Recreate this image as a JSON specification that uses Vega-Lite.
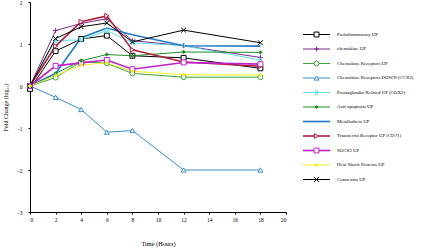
{
  "$schema": "https://vega.github.io/schema/vega-lite/v6.json",
  "padding": {"left": 2, "top": 0, "right": 0, "bottom": 0},
  "background": "white",
  "spacing": 15,
  "config": {
    "view": {"stroke": null},
    "font": "Liberation Serif",
    "axis": {"domainColor": "black", "tickColor": "black", "labelColor": "black", "titleColor": "black", "grid": false, "labelFont": "Liberation Serif", "titleFont": "Liberation Serif", "labelFontSize": 5.5, "titleFontSize": 6.3, "titleFontWeight": "normal", "tickSize": 2, "domainWidth": 1}
  },
  "data": {"values": [
    {"series": "Proinflammatory UP", "t": 0, "v": -0.07}, {"series": "Proinflammatory UP", "t": 2, "v": 0.83}, {"series": "Proinflammatory UP", "t": 4, "v": 1.12}, {"series": "Proinflammatory UP", "t": 6, "v": 1.2}, {"series": "Proinflammatory UP", "t": 8, "v": 0.72}, {"series": "Proinflammatory UP", "t": 12, "v": 0.67}, {"series": "Proinflammatory UP", "t": 18, "v": 0.42},
    {"series": "chemokine UP", "t": 0, "v": 0}, {"series": "chemokine UP", "t": 2, "v": 1.32}, {"series": "chemokine UP", "t": 4, "v": 1.49}, {"series": "chemokine UP", "t": 6, "v": 1.6}, {"series": "chemokine UP", "t": 8, "v": 1.08}, {"series": "chemokine UP", "t": 12, "v": 0.96}, {"series": "chemokine UP", "t": 18, "v": 0.68},
    {"series": "Chemokine Receptors UP", "t": 0, "v": 0}, {"series": "Chemokine Receptors UP", "t": 2, "v": 0.2}, {"series": "Chemokine Receptors UP", "t": 4, "v": 0.58}, {"series": "Chemokine Receptors UP", "t": 6, "v": 0.54}, {"series": "Chemokine Receptors UP", "t": 8, "v": 0.3}, {"series": "Chemokine Receptors UP", "t": 12, "v": 0.21}, {"series": "Chemokine Receptors UP", "t": 18, "v": 0.21},
    {"series": "Chemokine Receptors DOWN (CCR2)", "t": 0, "v": 0}, {"series": "Chemokine Receptors DOWN (CCR2)", "t": 2, "v": -0.27}, {"series": "Chemokine Receptors DOWN (CCR2)", "t": 4, "v": -0.56}, {"series": "Chemokine Receptors DOWN (CCR2)", "t": 6, "v": -1.1}, {"series": "Chemokine Receptors DOWN (CCR2)", "t": 8, "v": -1.06}, {"series": "Chemokine Receptors DOWN (CCR2)", "t": 12, "v": -2.0}, {"series": "Chemokine Receptors DOWN (CCR2)", "t": 18, "v": -2.0},
    {"series": "Prostaglandin-Related UP (COX2)", "t": 0, "v": 0}, {"series": "Prostaglandin-Related UP (COX2)", "t": 2, "v": 1.08}, {"series": "Prostaglandin-Related UP (COX2)", "t": 4, "v": 1.1}, {"series": "Prostaglandin-Related UP (COX2)", "t": 6, "v": 1.32}, {"series": "Prostaglandin-Related UP (COX2)", "t": 8, "v": 1.03}, {"series": "Prostaglandin-Related UP (COX2)", "t": 12, "v": 0.96}, {"series": "Prostaglandin-Related UP (COX2)", "t": 18, "v": 0.62},
    {"series": "Anti-apoptosis UP", "t": 0, "v": 0}, {"series": "Anti-apoptosis UP", "t": 2, "v": 0.3}, {"series": "Anti-apoptosis UP", "t": 4, "v": 0.6}, {"series": "Anti-apoptosis UP", "t": 6, "v": 0.75}, {"series": "Anti-apoptosis UP", "t": 8, "v": 0.72}, {"series": "Anti-apoptosis UP", "t": 12, "v": 0.81}, {"series": "Anti-apoptosis UP", "t": 18, "v": 0.8},
    {"series": "Metallothein UP", "t": 0, "v": 0}, {"series": "Metallothein UP", "t": 2, "v": 0.3}, {"series": "Metallothein UP", "t": 4, "v": 1.15}, {"series": "Metallothein UP", "t": 6, "v": 1.38}, {"series": "Metallothein UP", "t": 8, "v": 1.22}, {"series": "Metallothein UP", "t": 12, "v": 0.96}, {"series": "Metallothein UP", "t": 18, "v": 0.95},
    {"series": "Transferrin Receptor UP (CD71)", "t": 0, "v": 0}, {"series": "Transferrin Receptor UP (CD71)", "t": 2, "v": 0.95}, {"series": "Transferrin Receptor UP (CD71)", "t": 4, "v": 1.53}, {"series": "Transferrin Receptor UP (CD71)", "t": 6, "v": 1.67}, {"series": "Transferrin Receptor UP (CD71)", "t": 8, "v": 0.86}, {"series": "Transferrin Receptor UP (CD71)", "t": 12, "v": 0.57}, {"series": "Transferrin Receptor UP (CD71)", "t": 18, "v": 0.47},
    {"series": "SOCS3 UP", "t": 0, "v": 0}, {"series": "SOCS3 UP", "t": 2, "v": 0.48}, {"series": "SOCS3 UP", "t": 4, "v": 0.55}, {"series": "SOCS3 UP", "t": 6, "v": 0.62}, {"series": "SOCS3 UP", "t": 8, "v": 0.4}, {"series": "SOCS3 UP", "t": 12, "v": 0.56}, {"series": "SOCS3 UP", "t": 18, "v": 0.52},
    {"series": "Heat Shock Proteins UP", "t": 0, "v": 0}, {"series": "Heat Shock Proteins UP", "t": 2, "v": 0.25}, {"series": "Heat Shock Proteins UP", "t": 4, "v": 0.5}, {"series": "Heat Shock Proteins UP", "t": 6, "v": 0.55}, {"series": "Heat Shock Proteins UP", "t": 8, "v": 0.35}, {"series": "Heat Shock Proteins UP", "t": 12, "v": 0.27}, {"series": "Heat Shock Proteins UP", "t": 18, "v": 0.26},
    {"series": "Connexins UP", "t": 0, "v": 0}, {"series": "Connexins UP", "t": 2, "v": 1.13}, {"series": "Connexins UP", "t": 4, "v": 1.41}, {"series": "Connexins UP", "t": 6, "v": 1.5}, {"series": "Connexins UP", "t": 8, "v": 1.05}, {"series": "Connexins UP", "t": 12, "v": 1.33}, {"series": "Connexins UP", "t": 18, "v": 1.03}
  ]},
  "hconcat": [
    {
      "width": 256,
      "height": 210,
      "encoding": {
        "x": {"field": "t", "type": "quantitative", "scale": {"domain": [0, 20], "nice": false}, "axis": {"values": [0, 2, 4, 6, 8, 10, 12, 14, 16, 18, 20], "title": "Time (Hours)", "titlePadding": 18, "labelPadding": 3}},
        "y": {"field": "v", "type": "quantitative", "scale": {"domain": [-3, 2], "nice": false}, "axis": {"values": [-3, -2, -1, 0, 1, 2], "title": "Fold Change (log₁₀)", "titlePadding": 8, "labelPadding": 6, "titleFontSize": 6}},
        "shape": {
          "field": "series", "type": "nominal", "legend": null,
          "scale": {
            "domain": ["Proinflammatory UP", "chemokine UP", "Chemokine Receptors UP", "Chemokine Receptors DOWN (CCR2)", "Prostaglandin-Related UP (COX2)", "Anti-apoptosis UP", "Metallothein UP", "Transferrin Receptor UP (CD71)", "SOCS3 UP", "Heat Shock Proteins UP", "Connexins UP"],
            "range": ["square", "M0,-1L0,1M-1,0L1,0", "circle", "triangle-up", "M-0.35,-1L-0.35,1M0.35,-1L0.35,1", "diamond", "M-0.8,-0.8L0.8,0.8M-0.8,0.8L0.8,-0.8M0,-1L0,1", "triangle-right", "square", "diamond", "M-1,-1L1,1M-1,1L1,-1"]
          }
        },
        "color": {
          "field": "series", "type": "nominal", "legend": null,
          "scale": {
            "domain": ["Proinflammatory UP", "chemokine UP", "Chemokine Receptors UP", "Chemokine Receptors DOWN (CCR2)", "Prostaglandin-Related UP (COX2)", "Anti-apoptosis UP", "Metallothein UP", "Transferrin Receptor UP (CD71)", "SOCS3 UP", "Heat Shock Proteins UP", "Connexins UP"],
            "range": ["#000000", "#7b2a8f", "#3aa53a", "#3a8fc8", "#5edfe6", "#1e8c28", "#1f78c8", "#b0203a", "#c020c8", "#f0f020", "#000000"]
          }
        }
      },
      "layer": [
        {
          "mark": {"type": "line"},
          "encoding": {
            "shape": null,
            "strokeWidth": {"condition": {"test": "indexof(['SOCS3 UP', 'Transferrin Receptor UP (CD71)', 'Metallothein UP'], datum.series) >= 0", "value": 1.6}, "value": 1}
          }
        },
        {
          "transform": [{"filter": "indexof(['Anti-apoptosis UP', 'Metallothein UP', 'Heat Shock Proteins UP'], datum.series) < 0"}],
          "mark": {"type": "point", "size": 24, "strokeWidth": 1, "opacity": 1, "filled": false, "fill": "white", "fillOpacity": 1}
        },
        {
          "transform": [{"filter": "indexof(['Anti-apoptosis UP', 'Metallothein UP', 'Heat Shock Proteins UP'], datum.series) >= 0"}],
          "mark": {"type": "point", "size": 18, "strokeWidth": 1, "opacity": 1, "filled": true}
        }
      ]
    },
    {
      "width": 124,
      "height": 210,
      "transform": [{"filter": "datum.t === 0"}],
      "encoding": {
        "y": {"field": "series", "type": "nominal", "axis": null,
          "scale": {"type": "point", "padding": 0, "range": [32.5, 177.5],
            "domain": ["Proinflammatory UP", "chemokine UP", "Chemokine Receptors UP", "Chemokine Receptors DOWN (CCR2)", "Prostaglandin-Related UP (COX2)", "Anti-apoptosis UP", "Metallothein UP", "Transferrin Receptor UP (CD71)", "SOCS3 UP", "Heat Shock Proteins UP", "Connexins UP"]}},
        "shape": {
          "field": "series", "type": "nominal", "legend": null,
          "scale": {
            "domain": ["Proinflammatory UP", "chemokine UP", "Chemokine Receptors UP", "Chemokine Receptors DOWN (CCR2)", "Prostaglandin-Related UP (COX2)", "Anti-apoptosis UP", "Metallothein UP", "Transferrin Receptor UP (CD71)", "SOCS3 UP", "Heat Shock Proteins UP", "Connexins UP"],
            "range": ["square", "M0,-1L0,1M-1,0L1,0", "circle", "triangle-up", "M-0.35,-1L-0.35,1M0.35,-1L0.35,1", "diamond", "M-0.8,-0.8L0.8,0.8M-0.8,0.8L0.8,-0.8M0,-1L0,1", "triangle-right", "square", "diamond", "M-1,-1L1,1M-1,1L1,-1"]
          }
        },
        "color": {
          "field": "series", "type": "nominal", "legend": null,
          "scale": {
            "domain": ["Proinflammatory UP", "chemokine UP", "Chemokine Receptors UP", "Chemokine Receptors DOWN (CCR2)", "Prostaglandin-Related UP (COX2)", "Anti-apoptosis UP", "Metallothein UP", "Transferrin Receptor UP (CD71)", "SOCS3 UP", "Heat Shock Proteins UP", "Connexins UP"],
            "range": ["#000000", "#7b2a8f", "#3aa53a", "#3a8fc8", "#5edfe6", "#1e8c28", "#1f78c8", "#b0203a", "#c020c8", "#f0f020", "#000000"]
          }
        }
      },
      "layer": [
        {
          "mark": {"type": "rule"},
          "encoding": {
            "shape": null,
            "x": {"datum": 0, "type": "quantitative", "scale": {"domain": [0, 124], "nice": false}, "axis": null},
            "x2": {"datum": 27},
            "strokeWidth": {"condition": {"test": "indexof(['SOCS3 UP', 'Transferrin Receptor UP (CD71)', 'Metallothein UP'], datum.series) >= 0", "value": 1.6}, "value": 1}
          }
        },
        {
          "transform": [{"filter": "indexof(['Anti-apoptosis UP', 'Metallothein UP', 'Heat Shock Proteins UP'], datum.series) < 0"}],
          "mark": {"type": "point", "size": 24, "strokeWidth": 1, "opacity": 1, "filled": false, "fill": "white", "fillOpacity": 1},
          "encoding": {"x": {"datum": 13.5, "type": "quantitative"}}
        },
        {
          "transform": [{"filter": "indexof(['Anti-apoptosis UP', 'Metallothein UP', 'Heat Shock Proteins UP'], datum.series) >= 0"}],
          "mark": {"type": "point", "size": 18, "strokeWidth": 1, "opacity": 1, "filled": true},
          "encoding": {"x": {"datum": 13.5, "type": "quantitative"}}
        },
        {
          "mark": {"type": "text", "align": "left", "baseline": "middle", "font": "Liberation Serif", "fontSize": 4.9, "color": "black"},
          "encoding": {
            "x": {"datum": 34, "type": "quantitative"},
            "text": {"field": "series"},
            "shape": null,
            "color": null
          }
        }
      ]
    }
  ]
}
